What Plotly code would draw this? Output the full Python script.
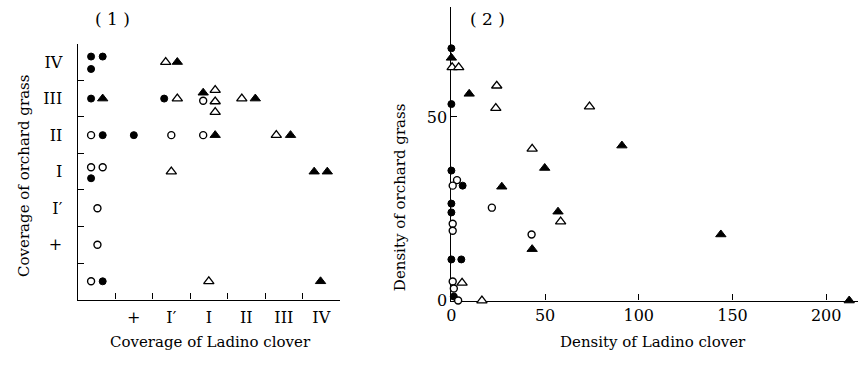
import plotly.graph_objects as go

# ---------------- Panel (1): coverage classes ----------------
# class index: 0 = absent, 1 = "+", 2 = "I′", 3 = "I", 4 = "II", 5 = "III", 6 = "IV"
cov_classes = ["", "+", "I′", "I", "II", "III", "IV"]

# filled circles
cov_fc_x = [-0.14, 0.17, -0.14, -0.14, 0.17, 1.0, 1.81, -0.14, 0.17]
cov_fc_y = [6.15, 6.15, 5.81, 5.0, 4.0, 4.0, 5.0, 2.82, 0.0]
# open circles
cov_oc_x = [-0.14, 2.0, 2.85, -0.14, 0.17, 0.03, 0.03, -0.14, 2.85]
cov_oc_y = [4.0, 4.0, 4.0, 3.12, 3.12, 2.0, 1.0, 0.0, 4.94]
# open triangles
cov_ot_x = [1.85, 2.16, 3.17, 3.17, 3.17, 3.88, 4.8, 2.0, 3.0]
cov_ot_y = [6.0, 5.0, 5.23, 4.92, 4.63, 5.0, 4.0, 3.0, 0.0]
# filled triangles
cov_ft_x = [2.16, 0.17, 2.85, 4.24, 3.17, 5.18, 5.81, 6.16, 5.98]
cov_ft_y = [6.0, 5.0, 5.16, 5.0, 4.0, 4.0, 3.0, 3.0, 0.0]

# ---------------- Panel (2): density ----------------
den_fc_x = [0, 0, 0, 6.0, 0, 0, 0, 5.3, 1.3]
den_fc_y = [68.7, 53.5, 35.4, 31.3, 26.4, 24.0, 11.2, 11.2, 1.1]
den_oc_x = [3.0, 0.7, 21.6, 0.7, 0.7, 42.8, 0.7, 1.3, 3.6]
den_oc_y = [32.8, 31.3, 25.3, 20.9, 19.0, 18.0, 5.2, 3.3, 0.0]
den_ot_x = [0.4, 3.9, 24.2, 23.7, 43.1, 73.7, 58.3, 5.7, 16.3]
den_ot_y = [63.5, 63.5, 58.5, 52.4, 41.3, 52.8, 21.5, 4.8, 0.0]
den_ft_x = [0, 9.5, 49.8, 26.9, 56.9, 43.1, 91.0, 143.8, 212.3]
den_ft_y = [66.1, 56.3, 36.1, 31.0, 24.2, 14.0, 42.2, 18.0, 0.0]

den_xticks = [0, 50, 100, 150, 200]
den_yticks = [0, 50]

FONT = "DejaVu Serif"
W, H = 860, 366

styles = {
    "fc": dict(symbol="circle", size=7, color="black", line=dict(color="black", width=1)),
    "oc": dict(symbol="circle", size=7, color="white", line=dict(color="black", width=1.4)),
    "ot": dict(symbol="triangle-up", size=9, color="white", line=dict(color="black", width=1.3)),
    "ft": dict(symbol="triangle-up", size=9, color="black", line=dict(color="black", width=1)),
}

fig = go.Figure()
for key, xs, ys in [("fc", cov_fc_x, cov_fc_y), ("oc", cov_oc_x, cov_oc_y),
                    ("ot", cov_ot_x, cov_ot_y), ("ft", cov_ft_x, cov_ft_y)]:
    fig.add_trace(go.Scatter(x=xs, y=ys, mode="markers", marker=styles[key],
                             xaxis="x", yaxis="y", cliponaxis=False, showlegend=False))
for key, xs, ys in [("fc", den_fc_x, den_fc_y), ("oc", den_oc_x, den_oc_y),
                    ("ot", den_ot_x, den_ot_y), ("ft", den_ft_x, den_ft_y)]:
    fig.add_trace(go.Scatter(x=xs, y=ys, mode="markers", marker=styles[key],
                             xaxis="x2", yaxis="y2", cliponaxis=False, showlegend=False))

n = len(cov_classes)
centers = list(range(1, n))
bounds = [i + 0.5 for i in range(n - 1)]
tickfont = dict(family=FONT, size=16, color="black")

common = dict(showline=True, linecolor="black", linewidth=1.2, showgrid=False,
              zeroline=False, layer="below traces", tickfont=tickfont)

fig.update_layout(
    width=W, height=H, margin=dict(l=0, r=0, t=0, b=0),
    paper_bgcolor="white", plot_bgcolor="white",
    font=dict(family=FONT, color="black"),
    xaxis=dict(domain=[73 / W, 337 / W], range=[-0.5, n - 0.5], anchor="y",
               tickmode="array", tickvals=centers, ticktext=cov_classes[1:], ticks="",
               ticklabelstandoff=3,
               minor=dict(tickmode="array", tickvals=bounds, ticks="inside",
                          ticklen=6, tickcolor="black", tickwidth=1.2),
               **common),
    yaxis=dict(domain=[(H - 308) / H, (H - 45) / H], range=[-0.5, n - 0.5], anchor="x",
               tickmode="array", tickvals=centers, ticktext=cov_classes[1:], ticks="",
               ticklabelstandoff=11,
               minor=dict(tickmode="array", tickvals=bounds, ticks="inside",
                          ticklen=6, tickcolor="black", tickwidth=1.2),
               **common),
    xaxis2=dict(domain=[449 / W, 858 / W], range=[0, 217], anchor="y2",
                tickmode="array", tickvals=den_xticks, ticks="inside", ticklen=6,
                tickcolor="black", tickwidth=1.2, **common),
    yaxis2=dict(domain=[(H - 309) / H, (H - 7) / H], range=[0, 80], anchor="x2",
                tickmode="array", tickvals=den_yticks, ticks="inside", ticklen=6,
                tickcolor="black", tickwidth=1.2, **common),
)

title_font = dict(family=FONT, size=15, color="black")
ann = [
    dict(text="Coverage of orchard grass", x=19 / W, y=(H - 181) / H, textangle=-90),
    dict(text="Density of orchard grass", x=398 / W, y=(H - 203) / H, textangle=-90),
    dict(text="Coverage of Ladino clover", x=207 / W, y=(H - 352) / H),
    dict(text="Density of Ladino clover", x=652 / W, y=(H - 352) / H),
    dict(text="( 1 )", x=108 / W, y=(H - 20) / H),
    dict(text="( 2 )", x=485 / W, y=(H - 20) / H),
]
for a in ann:
    fig.add_annotation(xref="paper", yref="paper", showarrow=False,
                       xanchor="center", yanchor="middle",
                       font=title_font if not a["text"].startswith("(") else dict(family=FONT, size=17, color="black"),
                       **a)

fig.write_html("out.html",
               config={"displayModeBar": False},
               post_script="document.body.style.margin='0px';document.body.style.overflow='hidden';")
